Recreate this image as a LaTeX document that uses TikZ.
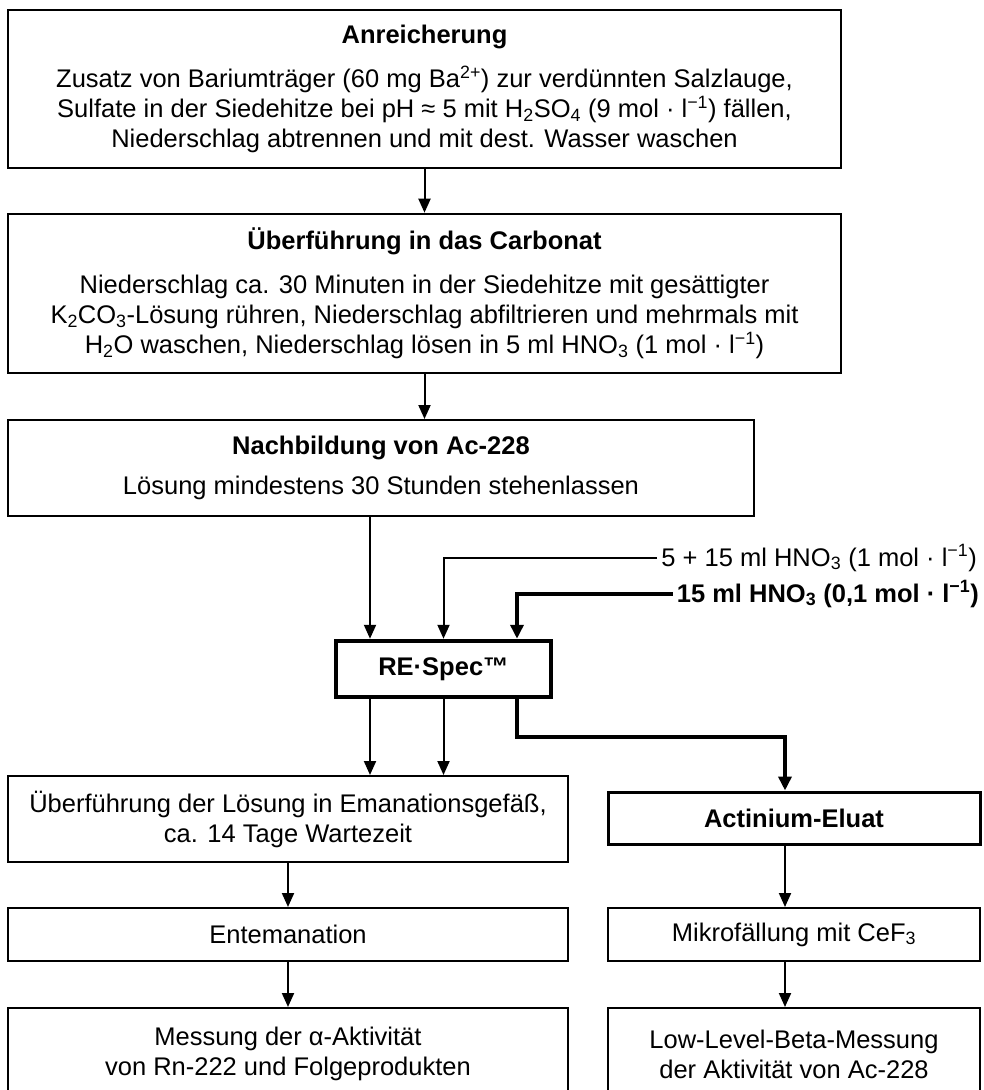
\documentclass[tikz,border=0pt]{standalone}
\usepackage{fontspec}
\setmainfont{Liberation Sans}
\usetikzlibrary{arrows.meta,calc}
\begin{document}
\begin{tikzpicture}[x=1pt,y=-1pt,
  font=\fontsize{25.5}{30}\selectfont,
  box/.style={draw, line width=2pt, align=center, inner sep=0pt},
  bigbox/.style={box, line width=2.6pt},
  conn/.style={line width=2pt, -{Triangle[length=14pt,width=12pt]}},
  bconn/.style={line width=3.5pt, -{Triangle[length=14pt,width=13pt]}},
  feed/.style={inner sep=4pt, anchor=east}]
\useasboundingbox (0,0) rectangle (984,1090);
\clip (0,0) rectangle (984,1090);
\fill[white] (0,0) rectangle (984,1090);

\node[bigbox, minimum width=833pt, minimum height=158pt] (b1) at (424.5,89)
  {\textbf{Anreicherung}\\[14pt]
   Zusatz von Bariumträger (60 mg Ba\textsuperscript{2+}) zur verdünnten Salzlauge,\\
   Sulfate in der Siedehitze bei pH ≈ 5 mit H\textsubscript{2}SO\textsubscript{4} (9 mol · l\textsuperscript{−1}) fällen,\\
   Niederschlag abtrennen und mit dest. Wasser waschen};

\node[bigbox, minimum width=833pt, minimum height=159pt] (b2) at (424.5,293.5)
  {\textbf{Überführung in das Carbonat}\\[14pt]
   Niederschlag ca. 30 Minuten in der Siedehitze mit gesättigter\\
   K\textsubscript{2}CO\textsubscript{3}-Lösung rühren, Niederschlag abfiltrieren und mehrmals mit\\
   H\textsubscript{2}O waschen, Niederschlag lösen in 5 ml HNO\textsubscript{3} (1 mol · l\textsuperscript{−1})};

\node[box, minimum width=746pt, minimum height=96pt] (b3) at (381,468)
  {\textbf{Nachbildung von Ac-228}\\[10pt]
   Lösung mindestens 30 Stunden stehenlassen};

\node[box, line width=4.5pt, minimum width=215pt, minimum height=56pt, font=\fontsize{25.5}{30}\selectfont\bfseries] (respec) at (443.5,669) {RE·Spec™};

\node[feed] (lab1) at (981,558) {5 + 15 ml HNO\textsubscript{3} (1 mol · l\textsuperscript{−1})};
\node[feed, font=\fontsize{25.5}{30}\selectfont\bfseries] (lab2) at (983,594) {15 ml HNO\textsubscript{3} (0,1 mol · l\textsuperscript{−1})};

\node[box, minimum width=560pt, minimum height=86pt] (b4) at (288,819)
  {Überführung der Lösung in Emanationsgefäß,\\ca. 14 Tage Wartezeit};
\node[box, line width=3pt, minimum width=372pt, minimum height=52pt, font=\fontsize{25.5}{30}\selectfont\bfseries] (act) at (794,818) {Actinium-Eluat};

\node[box, minimum width=560pt, minimum height=53pt] (ent) at (288,934.5) {Entemanation};
\node[box, minimum width=372pt, minimum height=53pt] (mik) at (794,934.5) {Mikrofällung mit CeF\textsubscript{3}};

\node[box, minimum width=560pt, minimum height=92pt] (mess) at (288,1054)
  {Messung der α-Aktivität\\von Rn-222 und Folgeprodukten};
\node[box, minimum width=372pt, minimum height=92pt] (low) at (794,1054)
  {Low-Level-Beta-Messung\\der Aktivität von Ac-228};

\coordinate (xL) at (370,0);
\coordinate (xR) at (517,0);
\coordinate (bend) at (785,737);

\draw[conn] (b1.south) -- (b2.north);
\draw[conn] (b2.south) -- (b2.south |- b3.north);
\draw[conn] (b3.south -| xL) -- (respec.north -| xL);
\draw[conn] (lab1.west) -| (respec.north);
\draw[bconn] (lab2.west) -| (respec.north -| xR);
\draw[conn] (respec.south -| xL) -- (b4.north -| xL);
\draw[conn] (respec.south) -- (respec.south |- b4.north);
\draw[bconn] (respec.south -| xR) |- (bend) -- (bend |- act.north);
\draw[conn] (b4.south) -- (ent.north);
\draw[conn] (ent.south) -- (mess.north);
\draw[conn] (act.south -| bend) -- (mik.north -| bend);
\draw[conn] (mik.south -| bend) -- (low.north -| bend);
\end{tikzpicture}
\end{document}
